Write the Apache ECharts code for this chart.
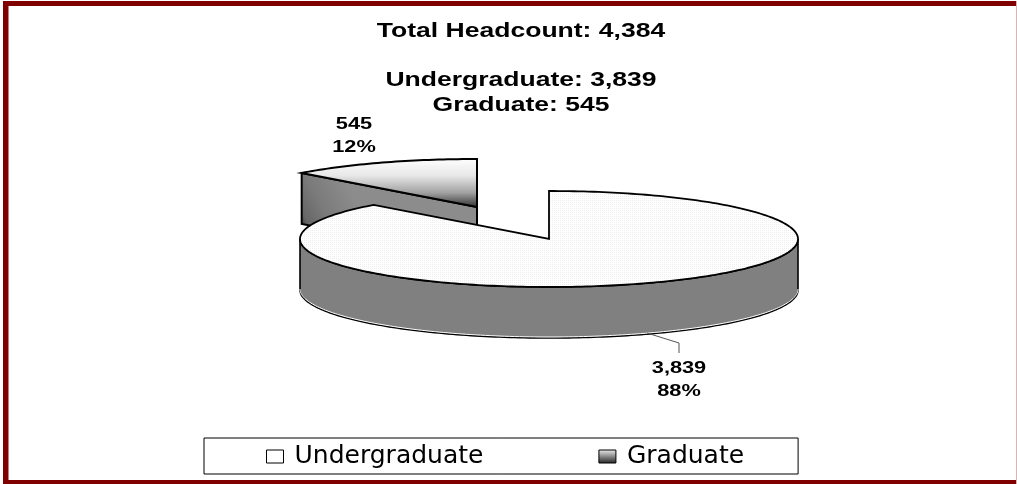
<!DOCTYPE html>
<html><head><meta charset="utf-8">
<style>html,body{margin:0;padding:0;background:#fff}#c{width:1017px;height:484px}</style>
<script src="https://cdn.jsdelivr.net/npm/echarts@6/dist/echarts.min.js"></script>
</head><body><div id="c"></div>
<script>
const categories = ['Undergraduate', 'Graduate'];
const headcount = [3839, 545];
const totalHeadcount = 4384;
const titleLines = ['Total Headcount: 4,384', 'Undergraduate: 3,839', 'Graduate: 545'];

const chart = echarts.init(document.getElementById('c'), null, {renderer:'canvas'});
const RX = 249, RY = 48, DEPTH = 51;
const pieCenter = [549, 239];
const explode = [-72, -32];
const TAU = Math.PI * 2;
const pt = (c, a, dy) => [c[0] + RX * Math.sin(a), c[1] - RY * Math.cos(a) + (dy || 0)];
const arc = (c, a0, a1, dy) => {
  const n = Math.max(4, Math.ceil(Math.abs(a1 - a0) / 0.02)), out = [];
  for (let i = 0; i <= n; i++) out.push(pt(c, a0 + (a1 - a0) * i / n, dy));
  return out;
};
const sum = headcount.reduce((a, b) => a + b, 0);
const fmt = v => v.toLocaleString('en-US');
const pct = v => Math.round(v / sum * 100) + '%';
const angleOf = v => v / sum * TAU;

const dots = document.createElement('canvas');
dots.width = 2; dots.height = 2;
const dctx = dots.getContext('2d');
dctx.fillStyle = '#ffffff'; dctx.fillRect(0, 0, 2, 2);
dctx.fillStyle = '#eeeeee'; dctx.fillRect(0, 0, 1, 1);
const dotFill = {image: dots, repeat: 'repeat'};

const grad = (stops, x, y, x2, y2) => ({type:'linear', x:x, y:y, x2:x2, y2:y2, colorStops: stops.map(s => ({offset:s[0], color:s[1]}))});
const LINE = '#000';
const labelFont = 'bold 17px "Liberation Sans", Arial, sans-serif';

function renderUnder(params, api) {
  const v = api.value(0);
  const end = angleOf(v);
  const c = pieCenter;
  const top = [c].concat(arc(c, 0, end));
  const sideTop = arc(c, Math.PI / 2, Math.PI * 1.5);
  const sideBottom = arc(c, Math.PI * 1.5, Math.PI / 2, DEPTH);
  const lead = [[647, 333], [679, 343], [679, 353]];
  return {type:'group', children:[
    {type:'polygon', shape:{points: sideTop.concat(sideBottom)}, style:{fill:'#808080', stroke:LINE, lineWidth:1.6}},
    {type:'polyline', shape:{points: arc(c, Math.PI * 1.5, Math.PI / 2, DEPTH - 1)}, style:{fill:null, stroke:'#fff', lineWidth:1}},
    {type:'polygon', shape:{points: top}, style:{fill: dotFill, stroke:LINE, lineWidth:1.8}},
    {type:'polyline', shape:{points: lead}, style:{fill:null, stroke:'#555', lineWidth:1}},
    {type:'text', x:679, y:380, scaleX:1.28, style:{text: fmt(v) + '\n' + pct(v), font: labelFont, lineHeight:23, fill:'#000', align:'center', verticalAlign:'middle'}}
  ]};
}
function renderGrad(params, api) {
  const v = api.value(0);
  const c = [pieCenter[0] + explode[0], pieCenter[1] + explode[1]];
  const start = -angleOf(v);
  const tip = pt(c, start);
  const top = [c].concat(arc(c, start, 0));
  const cut = [tip, c, [c[0], c[1] + DEPTH], [tip[0], tip[1] + DEPTH]];
  return {type:'group', children:[
    {type:'polygon', shape:{points: cut}, style:{fill: grad([[0,'#333333'],[0.12,'#666666'],[0.45,'#7a7a7a'],[1,'#8c8c8c']],0,0.62,0.3,0.3), stroke:LINE, lineWidth:2}},
    {type:'polygon', shape:{points: top}, style:{fill: grad([[0,'#fff'],[0.35,'#e8e8e8'],[0.7,'#a0a0a0'],[1,'#2a2a2a']],0,0,0,1), stroke:LINE, lineWidth:2}},
    {type:'text', x:354, y:136, scaleX:1.28, style:{text: fmt(v) + '\n' + pct(v), font: labelFont, lineHeight:23, fill:'#000', align:'center', verticalAlign:'middle'}}
  ]};
}
const titleY = [32, 81, 106];
const frame = [
  [3, 1, 1014, 5, '#800000'],
  [3, 1, 5.5, 483, '#800000'],
  [3, 480, 1014, 4, '#800000'],
  [1016, 1, 1, 483, '#d8b4b4']
];
chart.setOption({
  animation:false,
  backgroundColor:'#fff',
  legend:{
    show:true, left:204, top:438, orient:'horizontal',
    data:[
      {name:categories[0], icon:'rect', itemStyle:{color:'#fff', borderColor:'#000', borderWidth:1}},
      {name:categories[1], icon:'rect', itemStyle:{color:grad([[0,'#eee'],[1,'#222']],0,0,0,1), borderColor:'#000', borderWidth:1}}
    ],
    padding:[6,54,5,62], itemGap:115, itemWidth:17, itemHeight:13,
    borderColor:'#000', borderWidth:1, backgroundColor:'#fff',
    textStyle:{fontFamily:'"DejaVu Sans"', fontSize:25, color:'#000', padding:[0,0,0,6]}
  },
  graphic:frame.map(f=>({type:'rect', silent:true, z:100, shape:{x:f[0],y:f[1],width:f[2],height:f[3]}, style:{fill:f[4]}}))
  .concat(titleLines.map((t,i)=>({type:'text', x:521, y:titleY[i], scaleX:1.36, style:{text:t, font:'bold 19.5px "Liberation Sans", Arial, sans-serif', fill:'#000', align:'center', verticalAlign:'middle'}}))),
  series:[
    {type:'custom', name:categories[1], coordinateSystem:'none', renderItem:renderGrad, data:[[headcount[1]]], itemStyle:{color:'#666'}, z:1},
    {type:'custom', name:categories[0], coordinateSystem:'none', renderItem:renderUnder, data:[[headcount[0]]], itemStyle:{color:'#fff'}, z:2}
  ]
});
</script></body></html>
